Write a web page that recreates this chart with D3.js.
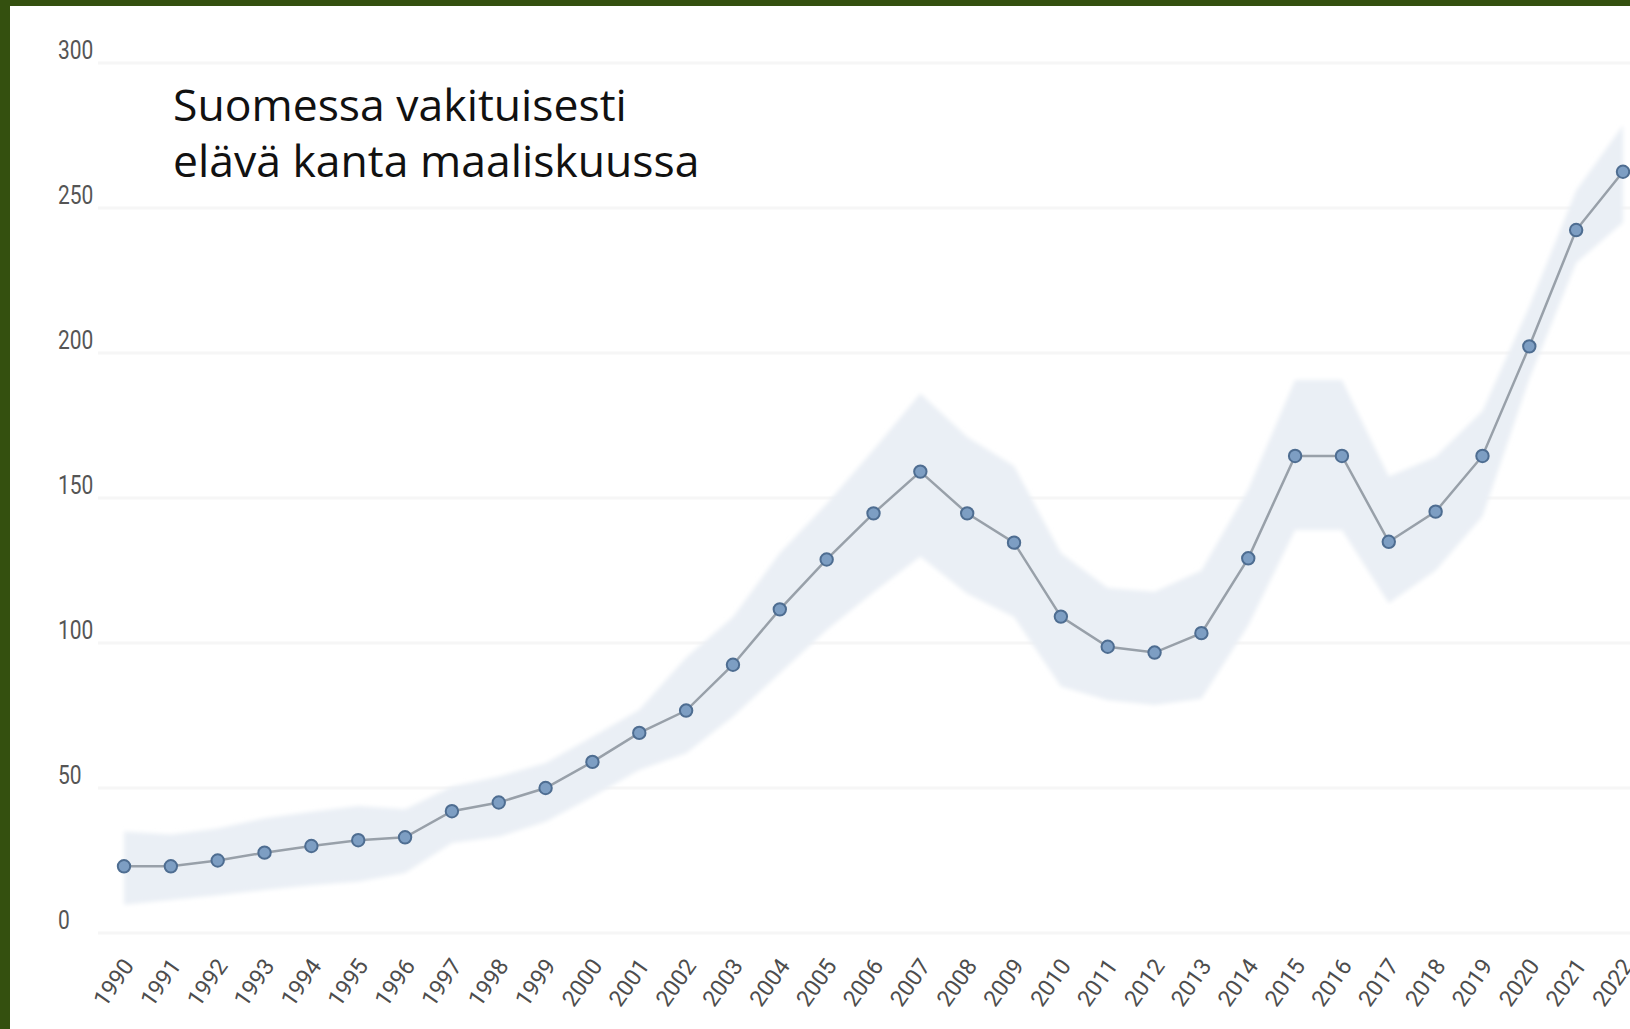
<!DOCTYPE html>
<html>
  <head>
    <meta charset="UTF-8">
    <title>Susikanta</title>
    <script src="https://cdn.jsdelivr.net/npm/d3@7"></script>
    <style>
      html, body { margin: 0; padding: 0; background: #ffffff; }
      svg { display: block; }
    </style>
  </head>
  <body>
    <script>
      // data
      var years = d3.range(1990, 2023);
      var estimate = [23, 23, 25, 27.7, 30, 32, 33, 42, 45, 50, 59, 69, 76.7, 92.5, 111.6, 128.8,
                      144.7, 159.1, 144.7, 134.6, 109.1, 98.7, 96.7, 103.4, 129.2, 164.5, 164.5,
                      134.9, 145.3, 164.5, 202.3, 242.4, 262.5];
      var upper = [35, 34, 36, 39.6, 41.8, 43.8, 42.7, 50.5, 54, 58.6, 67.7, 77, 95, 109, 131, 148,
                   166.6, 186, 171, 161, 131, 119, 117.7, 125, 153, 190.7, 190.7, 157.4, 164.2,
                   180, 216, 256, 278.5];
      var lower = [9.7, 11.4, 13, 14.8, 16.5, 17.7, 20.7, 31, 33.2, 38.4, 47, 56.2, 62, 74.6, 89.6,
                   104.5, 117.5, 129.8, 117, 109, 85, 80.3, 78.6, 80.8, 106, 139, 139, 113.7, 125,
                   143.6, 191, 231, 245];
      var yTicks = [0, 50, 100, 150, 200, 250, 300];
      var titleLines = ["Suomessa vakituisesti", "elävä kanta maaliskuussa"];

      var width = 1630, height = 1029;

      var svg = d3.select("body").append("svg")
        .attr("width", width)
        .attr("height", height);

      var defs = svg.append("defs");
      defs.append("filter").attr("id", "soft")
        .append("feGaussianBlur").attr("stdDeviation", 2);

      var x = d3.scaleLinear().domain([1990, 2022]).range([124, 1623]);
      var y = d3.scaleLinear().domain([0, 300]).range([933, 63]);

      // gridlines
      svg.append("g").selectAll("line")
        .data(yTicks)
        .enter().append("line")
        .attr("x1", 98)
        .attr("x2", width)
        .attr("y1", function (d) { return y(d); })
        .attr("y2", function (d) { return y(d); })
        .style("stroke", "#f6f6f6")
        .style("stroke-width", 3);

      // y labels (slightly condensed like the source)
      svg.append("g").selectAll("text")
        .data(yTicks)
        .enter().append("text")
        .attr("transform", function (d) {
          return "translate(58," + (y(d) - 4) + ") scale(0.84,1)";
        })
        .text(function (d) { return d; })
        .style("font-family", "Roboto, sans-serif")
        .style("font-size", "25px")
        .style("fill", "#555555");

      // confidence band
      var rows = years.map(function (yr, i) {
        return { year: yr, v: estimate[i], lo: lower[i], hi: upper[i] };
      });

      var area = d3.area()
        .x(function (d) { return x(d.year); })
        .y0(function (d) { return y(d.lo); })
        .y1(function (d) { return y(d.hi); });

      svg.append("path")
        .datum(rows)
        .attr("d", area)
        .attr("filter", "url(#soft)")
        .style("fill", "#eaeff5");

      // line
      var line = d3.line()
        .x(function (d) { return x(d.year); })
        .y(function (d) { return y(d.v); });

      svg.append("path")
        .datum(rows)
        .attr("d", line)
        .style("fill", "none")
        .style("stroke", "#98a0a9")
        .style("stroke-width", 2.5);

      // points
      svg.append("g").selectAll("circle")
        .data(rows)
        .enter().append("circle")
        .attr("cx", function (d) { return x(d.year); })
        .attr("cy", function (d) { return y(d.v); })
        .attr("r", 6.2)
        .style("fill", "#7d9ec3")
        .style("stroke", "#4e6d91")
        .style("stroke-width", 2);

      // x labels
      svg.append("g").selectAll("text")
        .data(years)
        .enter().append("text")
        .attr("text-anchor", "end")
        .attr("transform", function (d) {
          return "translate(" + (x(d) + 11) + ",966) rotate(-55)";
        })
        .text(function (d) { return d; })
        .style("font-family", "Roboto, sans-serif")
        .style("font-size", "23px")
        .style("fill", "#4d4d4d");

      // title
      svg.append("g").selectAll("text")
        .data(titleLines)
        .enter().append("text")
        .attr("x", 173)
        .attr("y", function (d, i) { return 121 + i * 56; })
        .text(function (d) { return d; })
        .style("font-family", "'Open Sans', sans-serif")
        .style("font-size", "44.5px")
        .style("fill", "#111111");

      // green frame
      svg.append("rect")
        .attr("x", 0).attr("y", 0)
        .attr("width", 10).attr("height", height)
        .style("fill", "#34500f");
      svg.append("rect")
        .attr("x", 0).attr("y", 0)
        .attr("width", width).attr("height", 6)
        .style("fill", "#34500f");
    </script>
  </body>
</html>
